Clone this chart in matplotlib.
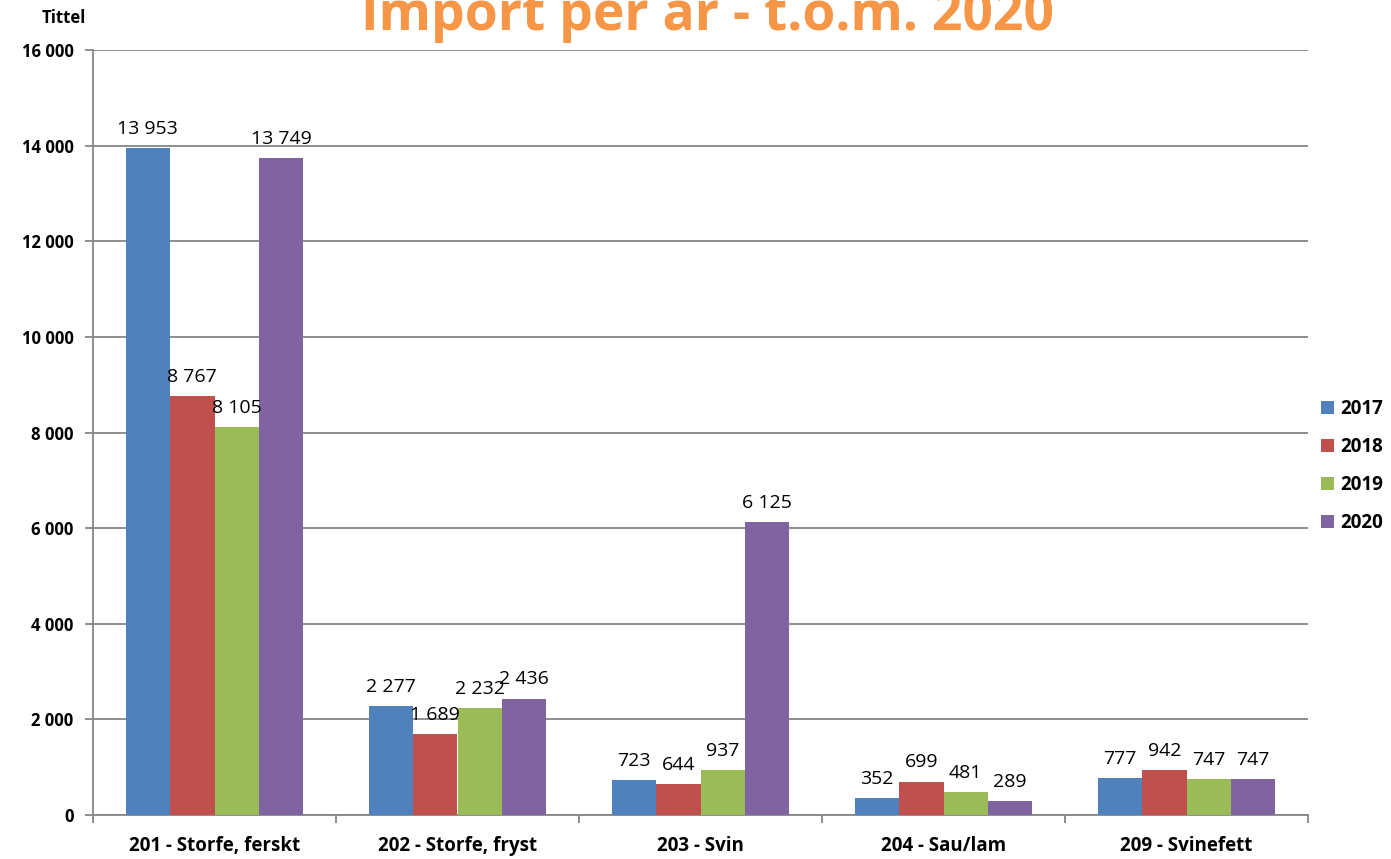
import matplotlib
matplotlib.use("Agg")
import matplotlib.pyplot as plt
import numpy as np

categories = ["201 - Storfe, ferskt", "202 - Storfe, fryst", "203 - Svin", "204 - Sau/lam", "209 - Svinefett"]
years = ["2017", "2018", "2019", "2020"]
v2017 = [13953, 2277, 723, 352, 777]
v2018 = [8767, 1689, 644, 699, 942]
v2019 = [8105, 2232, 937, 481, 747]
v2020 = [13749, 2436, 6125, 289, 747]
series = [v2017, v2018, v2019, v2020]
colors = ["#4F81BD", "#C0504D", "#9BBB59", "#8064A2"]

plt.rcParams['font.family'] = ['Open Sans', 'DejaVu Sans']

W, H = 1391, 859
fig = plt.figure(figsize=(W/100, H/100), dpi=100)
ax = fig.add_axes([93/W, 1-815/H, (1308-93)/W, (815-50)/H])

def fmt(v):
    return f"{int(v):,}".replace(",", " ")

n = len(categories)
x = np.arange(n)
bw = 0.183
for i, (vals, c, yr) in enumerate(zip(series, colors, years)):
    pos = x + (i - 1.5) * bw
    ax.bar(pos, vals, width=bw, color=c, label=yr, zorder=3)
    for p, v in zip(pos, vals):
        ax.text(p, v + 400, fmt(v), ha='center', va='center', fontsize=14, color='black', zorder=4)

ax.set_xlim(-0.5, n - 0.5)
ax.set_ylim(0, 16000)
ax.set_yticks(np.arange(0, 16001, 2000))
ax.set_yticklabels([fmt(t) for t in np.arange(0, 16001, 2000)], fontsize=12, fontweight='bold')
ax.yaxis.grid(True, color='#868686', linewidth=1.3, zorder=0)
ax.set_axisbelow(True)

ax.set_xticks(np.arange(-0.5, n, 1.0))
ax.set_xticklabels([])
ax.set_xticks(x, minor=True)
ax.set_xticklabels(categories, minor=True, fontsize=13.5, fontweight='bold')
ax.tick_params(axis='x', which='minor', length=0, pad=15)
ax.tick_params(axis='x', which='major', length=6, color='#868686', width=1.3, direction='out')
ax.tick_params(axis='y', length=6, color='#868686', width=1.3, pad=8)

for s in ['top', 'right']:
    ax.spines[s].set_visible(False)
for s in ['left', 'bottom']:
    ax.spines[s].set_color('#868686')
    ax.spines[s].set_linewidth(1.3)

leg = fig.legend(loc='center left', bbox_to_anchor=(1304/W, 1-466/H), frameon=False,
                 prop={'weight': 'bold', 'size': 13.5}, handlelength=0.7, handleheight=0.7,
                 handletextpad=0.35, labelspacing=0.95)

fig.text(707/W, 1-30/H, "Import per år - t.o.m. 2020", ha='center', va='baseline',
         fontsize=38.5, fontweight='bold', color='#F79646')
fig.text(42/W, 1-18/H, "Tittel", ha='left', va='center', fontsize=12, fontweight='bold')

fig.savefig("out.png", dpi=100)
